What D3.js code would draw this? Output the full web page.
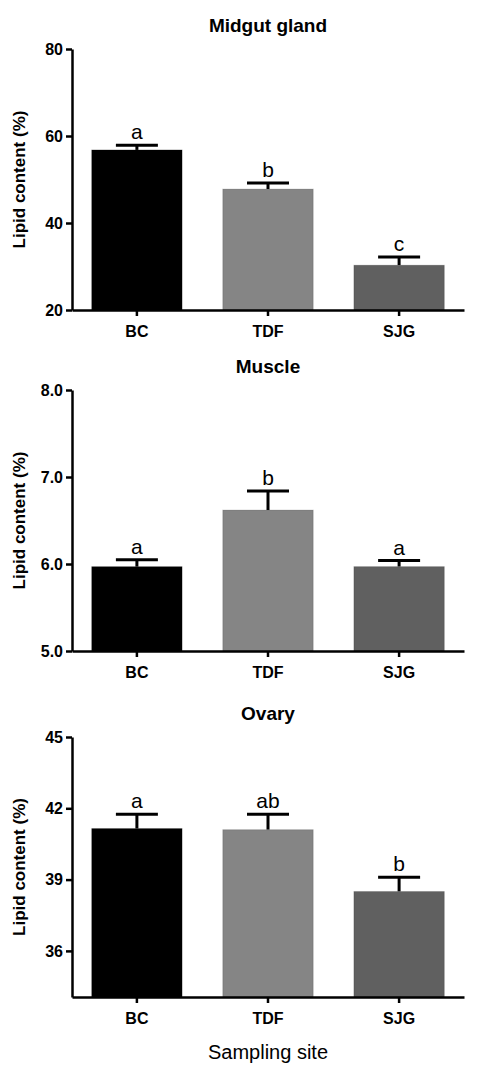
<!DOCTYPE html>
<html><head><meta charset="utf-8">
<script src="https://cdn.jsdelivr.net/npm/d3@7"></script>
<style>body{margin:0;background:#fff}text{font-family:Arial,"Liberation Sans",sans-serif}</style>
</head><body><svg id="c" width="478" height="1077"></svg>
<script>
const categories = ["BC","TDF","SJG"];
const colors = ["#000000","#858585","#606060"];
const titles = ["Midgut gland","Muscle","Ovary"];
const meansGland = [56.8,47.8,30.3];
const errGland = [1.1,1.4,1.9];
const lettersGland = ["a","b","c"];
const ticksGland = [20,40,60,80];
const meansMuscle = [5.97,6.62,5.97];
const errMuscle = [0.08,0.22,0.07];
const lettersMuscle = ["a","b","a"];
const ticksMuscle = [5,6,7,8];
const meansOvary = [41.15,41.1,38.5];
const errOvary = [0.6,0.65,0.6];
const lettersOvary = ["a","ab","b"];
const ticksOvary = [36,39,42,45];

const panels = [
 {title:titles[0], m:meansGland, e:errGland, l:lettersGland, t:ticksGland, dom:[20,80], top:49, bot:310},
 {title:titles[1], m:meansMuscle, e:errMuscle, l:lettersMuscle, t:ticksMuscle, dom:[5,8], top:390, bot:651},
 {title:titles[2], m:meansOvary, e:errOvary, l:lettersOvary, t:ticksOvary, dom:[34.06,45], top:737, bot:997}
];
const svg = d3.select("#c");
const x = d3.scaleBand().domain(categories).range([72,464]).paddingInner(0.31).paddingOuter(0.15);
panels.forEach(p=>{
  const y = d3.scaleLinear().domain(p.dom).range([p.bot,p.top]);
  const g = svg.append("g");
  g.append("text").attr("x",268).attr("y",p.top-17).attr("text-anchor","middle")
   .attr("font-size",19).attr("font-weight","bold").text(p.title);
  categories.forEach((c,i)=>{
    const cx = x(c)+x.bandwidth()/2;
    const yt = y(p.m[i]+p.e[i]);
    g.append("line").attr("x1",cx).attr("x2",cx).attr("y1",y(p.m[i])).attr("y2",yt).attr("stroke","#000").attr("stroke-width",3);
    g.append("line").attr("x1",cx-21).attr("x2",cx+21).attr("y1",yt).attr("y2",yt).attr("stroke","#000").attr("stroke-width",3);
    g.append("rect").attr("x",x(c)).attr("width",x.bandwidth()).attr("y",y(p.m[i])).attr("height",p.bot-y(p.m[i]))
     .attr("fill",colors[i]).attr("stroke","#000").attr("stroke-opacity",0.15);
    g.append("text").attr("x",cx).attr("y",yt-6).attr("text-anchor","middle").attr("font-size",21).text(p.l[i]);
  });
  const ya = g.append("g").attr("transform","translate(72,0)").call(d3.axisLeft(y).tickValues(p.t).tickSize(6).tickSizeOuter(0));
  const xa = g.append("g").attr("transform",`translate(0,${p.bot})`).call(d3.axisBottom(x).tickSize(6).tickSizeOuter(0));
  [ya,xa].forEach(a=>{a.select(".domain").attr("stroke-width",2.5);a.selectAll(".tick line").attr("stroke-width",2.5);
    a.selectAll("text").attr("font-size",16).attr("font-weight","bold").attr("fill","#000").attr("font-family","Arial,'Liberation Sans',sans-serif");});
  xa.selectAll("text").attr("dy","1.1em");
  g.append("text").attr("transform",`translate(25,${(p.top+p.bot)/2}) rotate(-90)`).attr("text-anchor","middle")
   .attr("font-size",17).attr("font-weight","bold").text("Lipid content (%)");
});
svg.append("text").attr("x",268).attr("y",1059).attr("text-anchor","middle").attr("font-size",20).text("Sampling site");
</script></body></html>
